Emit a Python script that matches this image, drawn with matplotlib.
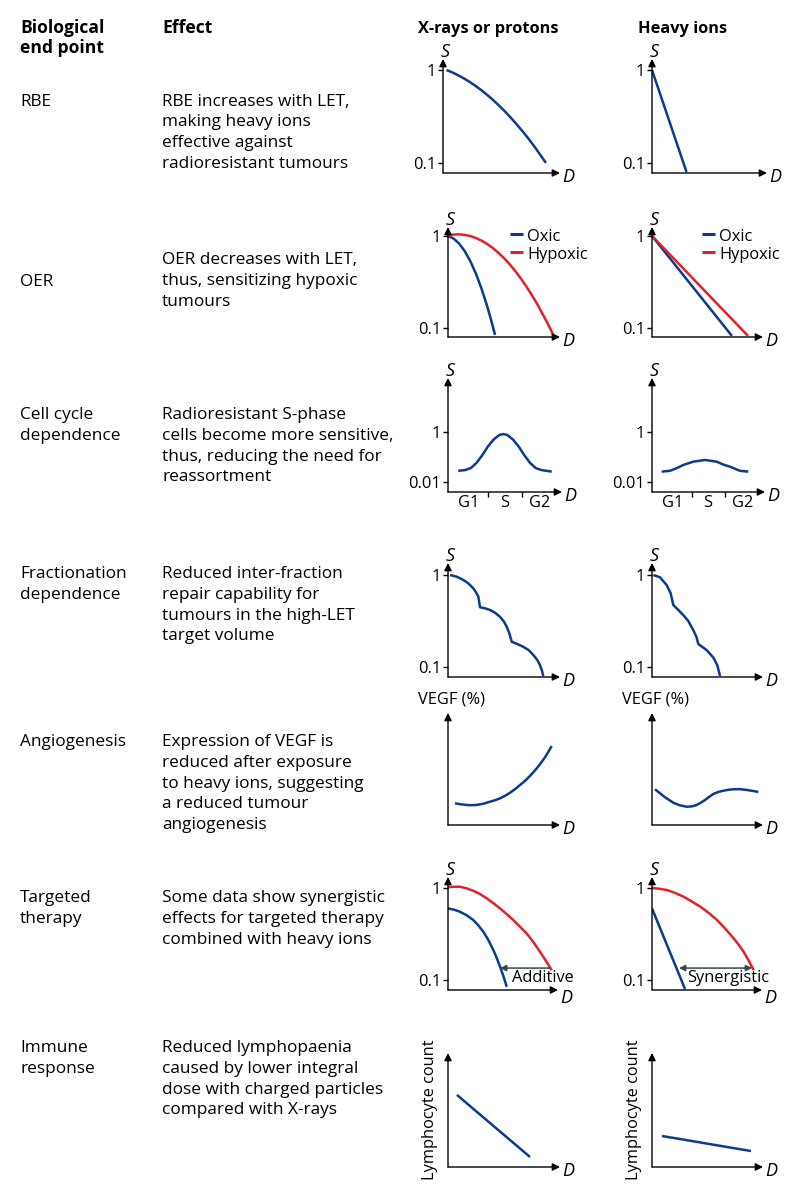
import numpy as np
import matplotlib.pyplot as plt
from matplotlib.ticker import NullLocator

plt.rcParams['font.family'] = ['Open Sans', 'DejaVu Sans']

W, H = 800, 1200
BLUE = '#0d3a8e'
RED = '#e4202a'
GREY = '#34484f'
FS = 11.8       # chart labels
FS_TXT = 12.4   # left text columns
LW = 1.8

## TEXT COLUMNS
col_headers = ['Biological', 'end point', 'Effect', 'X-rays or protons', 'Heavy ions']
end_points = [['RBE'], ['OER'], ['Cell cycle', 'dependence'], ['Fractionation', 'dependence'],
              ['Angiogenesis'], ['Targeted', 'therapy'], ['Immune', 'response']]
effects = [
    ['RBE increases with LET,', 'making heavy ions', 'effective against', 'radioresistant tumours'],
    ['OER decreases with LET,', 'thus, sensitizing hypoxic', 'tumours'],
    ['Radioresistant S-phase', 'cells become more sensitive,', 'thus, reducing the need for', 'reassortment'],
    ['Reduced inter-fraction', 'repair capability for', 'tumours in the high-LET', 'target volume'],
    ['Expression of VEGF is', 'reduced after exposure', 'to heavy ions, suggesting', 'a reduced tumour', 'angiogenesis'],
    ['Some data show synergistic', 'effects for targeted therapy', 'combined with heavy ions'],
    ['Reduced lymphopaenia', 'caused by lower integral', 'dose with charged particles', 'compared with X-rays'],
]

## CURVE DATA (dose D in arbitrary units, survival S)
# RBE
rbe_x_d = [0.3, 0.8, 1.3, 1.8, 2.3, 2.8, 3.3, 3.8, 4.3, 4.8, 5.3, 5.8, 6.3, 6.8, 7.3, 7.8, 8.3, 8.8]
rbe_x_s = [1.0, 0.941, 0.877, 0.810, 0.741, 0.672, 0.604, 0.537, 0.473, 0.413, 0.358, 0.306, 0.260,
           0.219, 0.183, 0.151, 0.123, 0.1]
rbe_h_d = [0.0, 3.0]
rbe_h_s = [1.0, 0.08]

# OER
oer_x_oxic_d = [0.0, 0.5, 1.0, 1.5, 2.0, 2.5, 3.0, 3.5, 3.9, 4.2]
oer_x_oxic_s = [1.0, 0.937, 0.824, 0.682, 0.530, 0.387, 0.266, 0.172, 0.116, 0.084]
oer_x_hyp_d = [0.0, 0.5, 1.0, 1.5, 2.0, 2.5, 3.0, 3.5, 4.0, 4.5, 5.0, 5.5, 6.0, 6.5, 7.0, 7.5, 8.0,
               8.5, 9.0, 9.4]
oer_x_hyp_s = [1.0, 1.035, 1.04, 1.025, 0.997, 0.949, 0.888, 0.817, 0.738, 0.656, 0.574, 0.493, 0.416,
               0.345, 0.282, 0.226, 0.179, 0.138, 0.106, 0.084]
oer_h_oxic_d = [0.0, 7.2]
oer_h_oxic_s = [1.0, 0.082]
oer_h_hyp_d = [0.0, 8.65]
oer_h_hyp_s = [1.0, 0.082]
oer_labels = ['Oxic', 'Hypoxic']

# cell cycle
cc_x_d = [0.9, 1.5, 2.0, 2.5, 3.0, 3.5, 4.0, 4.5, 4.85, 5.2, 5.7, 6.2, 6.7, 7.2, 7.7, 8.2, 9.1]
cc_x_s = [0.028, 0.030, 0.036, 0.058, 0.117, 0.263, 0.50, 0.76, 0.83, 0.76, 0.50, 0.263, 0.117, 0.058,
          0.036, 0.030, 0.026]
cc_h_d = [0.86, 1.59, 2.2, 2.77, 3.65, 4.69, 5.72, 6.3, 6.9, 7.79, 8.52]
cc_h_s = [0.026, 0.028, 0.036, 0.048, 0.065, 0.076, 0.065, 0.050, 0.041, 0.028, 0.026]
phases = ['G1', 'S', 'G2']
phase_pos = [1.8, 4.95, 8.05]
phase_ticks = [3.5, 6.5]

# fractionation
fr_x_d = [0.18, 0.77, 1.37, 1.82, 2.26, 2.5, 2.71, 2.86,
          3.3, 3.75, 4.2, 4.64, 5.0, 5.24, 5.48, 5.69,
          6.19, 6.72, 7.2, 7.62, 7.98, 8.21, 8.39, 8.51]
fr_x_s = [1.0, 0.959, 0.883, 0.811, 0.716, 0.649, 0.581, 0.446,
          0.435, 0.417, 0.389, 0.352, 0.311, 0.274, 0.232, 0.188,
          0.178, 0.166, 0.153, 0.135, 0.119, 0.105, 0.0912, 0.08]
fr_h_d = [0.12, 0.72, 1.32, 1.68, 1.92, 2.37, 2.82, 3.27, 3.72, 4.02, 4.17, 4.92, 5.52, 5.88, 6.13]
fr_h_s = [1.0, 0.944, 0.778, 0.633, 0.472, 0.417, 0.367, 0.316, 0.252, 0.21, 0.178, 0.153, 0.127,
          0.105, 0.08]

# angiogenesis (VEGF %)
vg_x_d = [0.63, 1.1, 1.67, 2.1, 2.56, 3.15, 3.75, 4.2, 4.64, 5.1, 5.54, 6.0, 6.43, 6.9, 7.32, 7.62,
          7.92, 8.3, 8.66, 8.96, 9.26]
vg_x_v = [19.4, 18.5, 17.9, 17.7, 17.9, 19.0, 20.8, 22.1, 23.8, 26.1, 28.8, 32.1, 35.7, 39.6, 43.8,
          47.1, 50.6, 55.4, 60.4, 65.4, 70.5]
vg_h_d = [0.27, 0.65, 1.02, 1.47, 1.92, 2.5, 3.13, 3.58, 4.03, 4.4, 4.77, 5.15, 5.52, 5.97, 6.42,
          6.87, 7.32, 7.9, 8.53, 9.05, 9.58]
vg_h_v = [31.9, 28.9, 25.9, 22.8, 19.9, 17.6, 16.3, 16.6, 17.9, 19.9, 22.3, 25.1, 27.7, 29.5, 30.6,
          31.4, 31.9, 32.0, 31.3, 30.5, 29.5]

# targeted therapy
tt_x_red_d = [0.0, 0.5, 1.09, 1.7, 2.3, 2.9, 3.52, 4.1, 4.73, 5.3, 5.94, 6.5, 7.15, 7.75, 8.36, 8.9, 9.43]
tt_x_red_s = [1.019, 1.033, 1.033, 0.991, 0.935, 0.861, 0.773, 0.687, 0.601, 0.525, 0.449, 0.385,
              0.321, 0.260, 0.203, 0.162, 0.128]
tt_x_blue_d = [0.0, 0.55, 1.09, 1.7, 2.3, 2.75, 3.21, 3.67, 4.12, 4.43, 4.73, 5.04, 5.34]
tt_x_blue_s = [0.601, 0.582, 0.552, 0.506, 0.449, 0.394, 0.335, 0.272, 0.212, 0.174, 0.140, 0.110, 0.0845]
tt_h_red_d = [0.0, 0.68, 1.36, 2.1, 2.88, 3.6, 4.39, 5.15, 5.91, 6.65, 7.42, 7.9, 8.33, 8.8, 9.24]
tt_h_red_s = [1.0, 0.982, 0.951, 0.885, 0.804, 0.716, 0.627, 0.537, 0.449, 0.363, 0.284, 0.240, 0.203,
              0.162, 0.128]
tt_h_blue_d = [0.0, 3.0]
tt_h_blue_s = [0.601, 0.08]
tt_x_arrow = [4.73, 9.3, 0.135]
tt_h_arrow = [2.45, 9.1, 0.135]

# immune response
im_x_d = [0.8, 7.32]
im_x_v = [63.2, 8.8]
im_h_d = [0.9, 8.92]
im_h_v = [27.2, 14.0]

## HELPERS
fig = plt.figure(figsize=(8, 12), dpi=100)

def ftext(px, py, s, **kw):
    kw.setdefault('fontsize', FS_TXT)
    fig.text(px / W, 1 - py / H, s, va='baseline', **kw)

def offset_label(ax, s, xy, dx, dy, **kw):
    # dx, dy in pixels (dy up)
    kw.setdefault('fontsize', FS)
    kw.setdefault('ha', 'center')
    kw.setdefault('va', 'center')
    ax.annotate(s, xy=xy, xycoords='axes fraction', xytext=(dx * 0.72, dy * 0.72),
                textcoords='offset points', annotation_clip=False, **kw)

def panel(x0, x_tip, y_axis, y_tip, ylim, log=True, yticks=(), ylabels=(), ylab='S', d_dy=-4.5):
    ax = fig.add_axes([x0 / W, 1 - y_axis / H, (x_tip - x0) / W, (y_axis - y_tip) / H])
    ax.patch.set_alpha(0)
    for sp in ax.spines.values():
        sp.set_visible(False)
    if log:
        ax.set_yscale('log')
    ax.set_xlim(0, 10)
    ax.set_ylim(*ylim)
    ax.yaxis.set_minor_locator(NullLocator())
    ax.xaxis.set_minor_locator(NullLocator())
    ax.set_xticks([])
    ax.set_yticks(list(yticks))
    ax.set_yticklabels(list(ylabels))
    ax.tick_params(axis='y', length=3.5, width=1, pad=1.5, labelsize=FS)
    ap = dict(arrowstyle='-|>', color='black', lw=1.0, shrinkA=0, shrinkB=0, mutation_scale=11)
    ax.annotate('', xy=(1, 0), xytext=(0, 0), xycoords='axes fraction', arrowprops=ap)
    ax.annotate('', xy=(0, 1), xytext=(0, 0), xycoords='axes fraction', arrowprops=ap)
    offset_label(ax, 'D', (1, 0), 8.5, d_dy, fontsize=13, style='italic')
    if ylab == 'S':
        offset_label(ax, 'S', (0, 1), 2, 7, fontsize=13, style='italic')
    elif ylab == 'VEGF':
        offset_label(ax, 'VEGF (%)', (0, 1), -30, 14, ha='left')
    elif ylab == 'Lym':
        ax.text(-0.16, 0.5, 'Lymphocyte count', rotation=90, transform=ax.transAxes,
                ha='center', va='center', fontsize=FS)
    return ax

def legend(ax, dx, dy, colors, ax_w, ax_h):
    # manual legend, dx/dy in pixels from the top-left corner of the axes
    for i, (lab, c) in enumerate(zip(oer_labels, colors)):
        y = 1 + (dy - 18.4 * i) / ax_h
        ax.plot([dx / ax_w, (dx + 13) / ax_w], [y, y], color=c, lw=2.2, transform=ax.transAxes,
                clip_on=False, solid_capstyle='butt')
        yt = 1 + (dy - 7 - 18.4 * i) / ax_h
        ax.text((dx + 17) / ax_w, yt, lab, transform=ax.transAxes, ha='left', va='baseline', fontsize=FS)

## HEADERS AND TEXT
ftext(20, 33, col_headers[0], fontweight='bold', fontsize=12.6)
ftext(20, 53, col_headers[1], fontweight='bold', fontsize=12.6)
ftext(162, 33, col_headers[2], fontweight='bold', fontsize=12.6)
ftext(418, 33, col_headers[3], fontweight='bold', fontsize=FS)
ftext(638, 33, col_headers[4], fontweight='bold', fontsize=FS)

ep_base = [105.5, 285.5, 419, 578, 746, 902, 1052]
ef_base = [105.5, 264.5, 419, 578, 746, 902, 1052]
for i in range(len(end_points)):
    for j, line in enumerate(end_points[i]):
        ftext(20, ep_base[i] + 20.8 * j, line)
    for j, line in enumerate(effects[i]):
        ftext(162, ef_base[i] + 20.8 * j, line)

## ROW 1: RBE
lim = (0.078, 1.313)
ax = panel(443, 560, 173, 59, lim, yticks=[1, 0.1], ylabels=['1', '0.1'])
ax.plot(rbe_x_d, rbe_x_s, color=BLUE, lw=LW, solid_capstyle='butt')
ax = panel(652, 767, 173, 59, lim, yticks=[1, 0.1], ylabels=['1', '0.1'])
ax.plot(rbe_h_d, rbe_h_s, color=BLUE, lw=LW, solid_capstyle='butt')

## ROW 2: OER
lim = (0.0798, 1.25)
ax = panel(448, 560, 337, 227, lim, yticks=[1, 0.1], ylabels=['1', '0.1'])
ax.plot(oer_x_oxic_d, oer_x_oxic_s, color=BLUE, lw=LW, solid_capstyle='butt')
ax.plot(oer_x_hyp_d, oer_x_hyp_s, color=RED, lw=LW, solid_capstyle='butt')
legend(ax, 62, -7, [BLUE, RED], 112, 110)
ax = panel(652, 763, 337, 227, lim, yticks=[1, 0.1], ylabels=['1', '0.1'])
ax.plot(oer_h_oxic_d, oer_h_oxic_s, color=BLUE, lw=LW, solid_capstyle='butt')
ax.plot(oer_h_hyp_d, oer_h_hyp_s, color=RED, lw=LW, solid_capstyle='butt')
legend(ax, 50, -7, [BLUE, RED], 111, 110)

## ROW 3: CELL CYCLE
lim = (0.00398, 144.5)
for x0, xt, d, s in [(448, 562, cc_x_d, cc_x_s), (652, 765, cc_h_d, cc_h_s)]:
    ax = panel(x0, xt, 492, 378, lim, yticks=[1, 0.01], ylabels=['1', '0.01'])
    ax.plot(d, s, color=BLUE, lw=LW, solid_capstyle='butt')
    ax.set_xticks(phase_ticks)
    ax.set_xticklabels([])
    ax.tick_params(axis='x', length=3.5, width=1)
    for lab, p in zip(phases, phase_pos):
        ax.text(p, -0.1, lab, transform=ax.get_xaxis_transform(), ha='center', va='center', fontsize=FS)

## ROW 4: FRACTIONATION
lim = (0.078, 1.35)
ax = panel(448, 560, 677, 563, lim, yticks=[1, 0.1], ylabels=['1', '0.1'])
ax.plot(fr_x_d, fr_x_s, color=BLUE, lw=LW, solid_capstyle='butt')
ax = panel(652, 763, 677, 563, lim, yticks=[1, 0.1], ylabels=['1', '0.1'])
ax.plot(fr_h_d, fr_h_s, color=BLUE, lw=LW, solid_capstyle='butt')

## ROW 5: ANGIOGENESIS
ax = panel(448, 560, 825, 713, (0, 100), log=False, ylab='VEGF')
ax.plot(vg_x_d, vg_x_v, color=BLUE, lw=LW, solid_capstyle='butt')
ax = panel(652, 763, 825, 713, (0, 100), log=False, ylab='VEGF')
ax.plot(vg_h_d, vg_h_v, color=BLUE, lw=LW, solid_capstyle='butt')

## ROW 6: TARGETED THERAPY
lim = (0.078, 1.318)
ax = panel(448, 558, 990, 877, lim, yticks=[1, 0.1], ylabels=['1', '0.1'], d_dy=-8)
ax.plot(tt_x_red_d, tt_x_red_s, color=RED, lw=LW, solid_capstyle='butt')
ax.plot(tt_x_blue_d, tt_x_blue_s, color=BLUE, lw=LW, solid_capstyle='butt')
ax.annotate('', xy=(tt_x_arrow[0], tt_x_arrow[2]), xytext=(tt_x_arrow[1], tt_x_arrow[2]),
            arrowprops=dict(arrowstyle='-|>', color=GREY, lw=1.1, shrinkA=0, shrinkB=0, mutation_scale=9))
ax.text(8.6, 0.105, 'Additive', ha='center', va='center', fontsize=FS)
ax = panel(652, 762, 990, 877, lim, yticks=[1, 0.1], ylabels=['1', '0.1'], d_dy=-8)
ax.plot(tt_h_red_d, tt_h_red_s, color=RED, lw=LW, solid_capstyle='butt')
ax.plot(tt_h_blue_d, tt_h_blue_s, color=BLUE, lw=LW, solid_capstyle='butt')
ax.annotate('', xy=(tt_h_arrow[0], tt_h_arrow[2]), xytext=(tt_h_arrow[1], tt_h_arrow[2]),
            arrowprops=dict(arrowstyle='<|-|>', color=GREY, lw=1.1, shrinkA=0, shrinkB=0, mutation_scale=9))
ax.text(6.9, 0.105, 'Synergistic', ha='center', va='center', fontsize=FS)

## ROW 7: IMMUNE RESPONSE
ax = panel(448, 560, 1167, 1053, (0, 100), log=False, ylab='Lym')
ax.plot(im_x_d, im_x_v, color=BLUE, lw=LW, solid_capstyle='butt')
ax = panel(652, 763, 1167, 1053, (0, 100), log=False, ylab='Lym')
ax.plot(im_h_d, im_h_v, color=BLUE, lw=LW, solid_capstyle='butt')

fig.savefig('out.png', dpi=100)
